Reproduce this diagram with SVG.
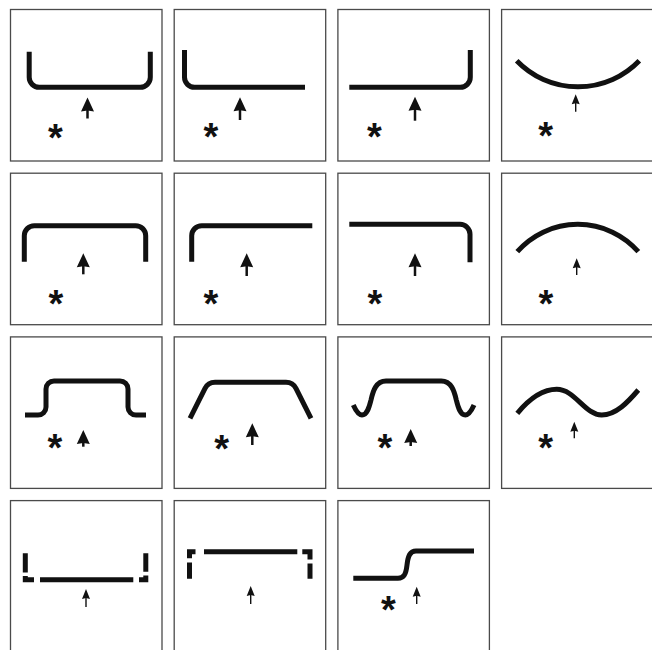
<svg xmlns="http://www.w3.org/2000/svg" xmlns:xlink="http://www.w3.org/1999/xlink" width="652" height="650" viewBox="0 0 652 650">
<style>
.box{fill:#fff;stroke:#4a4a4a;stroke-width:1.3}
.sh{fill:none;stroke:#111;stroke-width:5;stroke-linecap:butt;stroke-linejoin:miter}
.sb{stroke:#111;stroke-width:2.5}
.st{stroke:#111;stroke-width:1.4}
.ast{font-family:"Liberation Sans",Arial,sans-serif;font-weight:bold;font-size:38px;text-anchor:middle;fill:#111}
</style>
<defs>
<path id="hb" d="M0,0 L6.5,14 L0,13 L-6.5,14 Z" fill="#111"/>
<path id="ht" d="M0,0 L4,10 L0,9 L-4,10 Z" fill="#111"/>
</defs>
<rect width="652" height="650" fill="#fff"/>

<g id="cell1">
<rect class="box" x="10.5" y="9.5" width="151.5" height="151.5"/>
<path class="sh" d="M29.2,51.7 V77.3 A10,10 0 0 0 39.2,87.3 H140.3 A10,10 0 0 0 150.3,77.3 V51.7"/>
<line class="sb" x1="87.5" y1="108" x2="87.5" y2="118.5"/><use xlink:href="#hb" x="87.5" y="97.5"/>
<text class="ast" x="55.5" y="150.6">*</text>
</g>

<g id="cell2">
<rect class="box" x="174.2" y="9.5" width="151.5" height="151.5"/>
<path class="sh" d="M184.5,50 V77.3 A10,10 0 0 0 194.5,87.3 H305"/>
<line class="sb" x1="240" y1="108" x2="240" y2="120"/><use xlink:href="#hb" x="240" y="97.3"/>
<text class="ast" x="211" y="149.6">*</text>
</g>

<g id="cell3">
<rect class="box" x="337.9" y="9.5" width="151.5" height="151.5"/>
<path class="sh" d="M349.3,87.3 H460.3 A10,10 0 0 0 470.3,77.3 V50"/>
<line class="sb" x1="415" y1="108" x2="415" y2="120.7"/><use xlink:href="#hb" x="415" y="96.7"/>
<text class="ast" x="374.3" y="149.6">*</text>
</g>

<g id="cell4">
<rect class="box" x="501.6" y="9.5" width="151.5" height="151.5"/>
<path class="sh" d="M516.7,60.7 A85,85 0 0 0 639.3,60.7"/>
<line class="st" x1="575.7" y1="102" x2="575.7" y2="111.7"/><use xlink:href="#ht" x="575.7" y="94.3"/>
<text class="ast" x="545.7" y="149.3">*</text>
</g>

<g id="cell5">
<rect class="box" x="10.5" y="173.2" width="151.5" height="151.5"/>
<path class="sh" d="M24.3,261.7 V235.7 A10,10 0 0 1 34.3,225.7 H135.7 A10,10 0 0 1 145.7,235.7 V261.7"/>
<line class="sb" x1="83.3" y1="264" x2="83.3" y2="274.3"/><use xlink:href="#hb" x="83.3" y="253.3"/>
<text class="ast" x="56" y="317.3">*</text>
</g>

<g id="cell6">
<rect class="box" x="174.2" y="173.2" width="151.5" height="151.5"/>
<path class="sh" d="M191.7,261.7 V235.7 A10,10 0 0 1 201.7,225.7 H312.3"/>
<line class="sb" x1="246.7" y1="264" x2="246.7" y2="276"/><use xlink:href="#hb" x="246.7" y="253.3"/>
<text class="ast" x="211" y="316.6">*</text>
</g>

<g id="cell7">
<rect class="box" x="337.9" y="173.2" width="151.5" height="151.5"/>
<path class="sh" d="M349.3,224.3 H460 A10,10 0 0 1 470,234.3 V262.3"/>
<line class="sb" x1="415" y1="264" x2="415" y2="276"/><use xlink:href="#hb" x="415" y="253.3"/>
<text class="ast" x="375" y="317.3">*</text>
</g>

<g id="cell8">
<rect class="box" x="501.6" y="173.2" width="151.5" height="151.5"/>
<path class="sh" d="M517.3,251.7 A80.5,80.5 0 0 1 638.3,251.7"/>
<line class="st" x1="576.7" y1="266" x2="576.7" y2="275"/><use xlink:href="#ht" x="576.7" y="258.3"/>
<text class="ast" x="546" y="317.3">*</text>
</g>

<g id="cell9">
<rect class="box" x="10.5" y="336.9" width="151.5" height="151.5"/>
<path class="sh" d="M25,415 H38 A8,8 0 0 0 46,407 V389 A8,8 0 0 1 54,381 H120 A8,8 0 0 1 128,389 V407 A8,8 0 0 0 136,415 H146"/>
<line class="sb" x1="83.3" y1="440" x2="83.3" y2="446.7"/><use xlink:href="#hb" x="83.3" y="430"/>
<text class="ast" x="55" y="460.9">*</text>
</g>

<g id="cell10">
<rect class="box" x="174.2" y="336.9" width="151.5" height="151.5"/>
<path class="sh" d="M190,418.3 L204.9,388.6 Q208,382.3 215,382.3 H286 Q293,382.3 296.1,388.6 L311,418.3"/>
<line class="sb" x1="252.3" y1="434" x2="252.3" y2="445"/><use xlink:href="#hb" x="252.3" y="423.3"/>
<text class="ast" x="221.7" y="461.6">*</text>
</g>

<g id="cell11">
<rect class="box" x="337.9" y="336.9" width="151.5" height="151.5"/>
<path class="sh" d="M353.3,405 C356,411 359,415 362,415 C367,415 369,408 371,400 C373,391 376,381 386,381 H441.3 C451.3,381 454.3,391 456.3,400 C458.3,408 460.3,415 465.3,415 C468.3,415 471.3,411 474,405"/>
<line class="sb" x1="410.7" y1="439" x2="410.7" y2="446"/><use xlink:href="#hb" x="410.7" y="429"/>
<text class="ast" x="385" y="460.9">*</text>
</g>

<g id="cell12">
<rect class="box" x="501.6" y="336.9" width="151.5" height="151.5"/>
<path class="sh" d="M517.3,413.3 C530,398 542,389.3 556.7,389.3 C575,389.3 585,415 601.7,415 C616,415 628,402 638.3,390"/>
<line class="st" x1="574.3" y1="429" x2="574.3" y2="438.3"/><use xlink:href="#ht" x="574.3" y="421.7"/>
<text class="ast" x="545.7" y="460.6">*</text>
</g>

<g id="cell13">
<rect class="box" x="10.5" y="500.6" width="151.5" height="151.5"/>
<path class="sh" d="M25.3,553.3 V572.5 M25.3,576 V579.8 H34 M40,579.8 H133.3 M139,579.8 H145.8 V575.5 M145.8,571.7 V553.3"/>
<line class="st" x1="86" y1="597" x2="86" y2="607"/><use xlink:href="#ht" x="86" y="589"/>
</g>

<g id="cell14">
<rect class="box" x="174.2" y="500.6" width="151.5" height="151.5"/>
<path class="sh" d="M189.5,558.3 V551.8 H195.5 M204,551.8 H297.3 M302.3,551.8 H310 V559.5 M189.5,562.5 V578.8 M310,563.5 V578.8"/>
<line class="st" x1="250.7" y1="594" x2="250.7" y2="604"/><use xlink:href="#ht" x="250.7" y="586"/>
</g>

<g id="cell15">
<rect class="box" x="337.9" y="500.6" width="151.5" height="151.5"/>
<path class="sh" d="M353.3,578.3 H398 C404,578.3 406,574 407,565 C408,556 410,551 416,551 H474"/>
<line class="st" x1="416.7" y1="594" x2="416.7" y2="604"/><use xlink:href="#ht" x="416.7" y="586.7"/>
<text class="ast" x="388.3" y="622.6">*</text>
</g>
</svg>
